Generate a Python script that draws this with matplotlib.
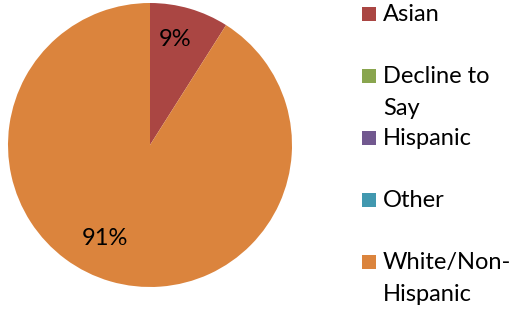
import matplotlib
matplotlib.use("Agg")
import matplotlib.pyplot as plt
from matplotlib.patches import Rectangle

plt.rcParams['font.family'] = ['Lato', 'DejaVu Sans']

categories = ["Asian", "Decline to\nSay", "Hispanic", "Other", "White/Non-\nHispanic"]
values = [9, 0, 0, 0, 91]
colors = ["#AA4643", "#89A54E", "#71588F", "#4198AF", "#DB843D"]


def pct_label(p):
    return f"{p:.0f}%" if p > 0.5 else ""


fig = plt.figure(figsize=(5.17, 3.14), dpi=100)
ax = fig.add_axes([8 / 517, 27 / 314, 284 / 517, 284 / 314])
wedges, texts, autotexts = ax.pie(values, colors=colors, startangle=90, counterclock=False,
                                  autopct=pct_label, pctdistance=0.76,
                                  textprops={"fontsize": 17, "color": "black"})
# Excel puts the big label a bit further round
autotexts[0].set_position((0.18, 0.74))
autotexts[4].set_position((-0.32, -0.655))
ax.set_xlim(-1, 1)
ax.set_ylim(-1, 1)
ax.set_aspect("equal")

# legend, fixed spacing like the original
W, H = 517, 314
for i, (lab, col) in enumerate(zip(categories, colors)):
    yc = 14 + i * 62
    fig.add_artist(Rectangle((362 / W, 1 - (yc + 7) / H), 14 / W, 14 / H,
                             transform=fig.transFigure, facecolor=col, edgecolor="none"))
    for j, line in enumerate(lab.split("\n")):
        fig.text(383 / W, 1 - (yc + 7 + 32 * j) / H, line, fontsize=17,
                 va="baseline", ha="left")

fig.savefig("out.png", dpi=100)
